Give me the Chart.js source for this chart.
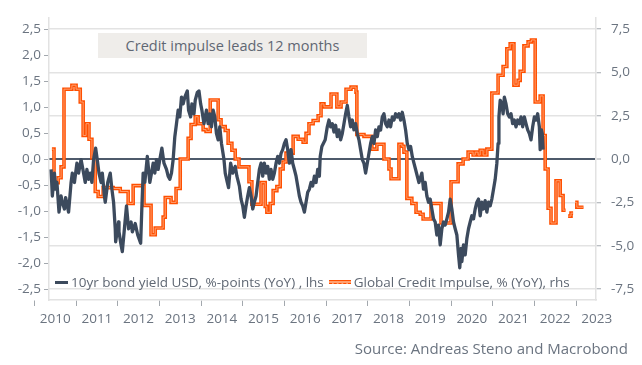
<!DOCTYPE html>
<html lang="en">
<head>
  <meta charset="utf-8">
  <title>Credit impulse vs 10yr yield</title>
  <script src="https://cdn.jsdelivr.net/npm/chart.js@4.4.1/dist/chart.umd.min.js"></script>
  <style>
    body{ margin:0; background:#fff; }
    #wrap{ position:relative; width:642px; height:365px; font-family:"Open Sans", sans-serif; color:#5f6773; }
    #chart{ position:absolute; left:0; top:0; }
    .note{
      position:absolute; left:98px; top:33px; width:269px; height:25px;
      background:#efedea; text-align:center; line-height:25px; font-size:14.5px;
    }
    .legend{ position:absolute; left:55px; top:273px; font-size:13.5px; white-space:nowrap; line-height:17px; }
    .legend span{ display:inline-block; vertical-align:middle; }
    .swatch-bond{ width:13px; height:3px; background:#3c4a5d; margin-right:3px; }
    .swatch-ci{ width:22px; height:2px; border-top:1.5px solid #ff4f00; border-bottom:1.5px dashed #ff4f00; background:#ffa070; margin:0 3px 0 5px; }
    .source{ position:absolute; right:14px; top:338px; font-size:15px; color:#6b7480; }
  </style>
</head>
<body>
<div id="wrap">
  <canvas id="chart" width="642" height="365"></canvas>
  <div class="note">Credit impulse leads 12 months</div>
  <div class="legend">
    <span class="swatch-bond"></span><span>10yr bond yield USD, %-points (YoY) , lhs</span><span class="swatch-ci"></span><span>Global Credit Impulse, % (YoY), rhs</span>
  </div>
  <div class="source">Source: Andreas Steno and Macrobond</div>
</div>

<script>
  // 10yr bond yield USD, %-points YoY (lhs) - dates as decimal years
  var bondDates = [
    2010.40, 2010.43, 2010.48, 2010.51, 2010.54, 2010.59, 2010.64, 2010.67, 2010.72, 2010.75,
    2010.82, 2010.88, 2010.91, 2010.96, 2011.02, 2011.06, 2011.12, 2011.18, 2011.22, 2011.26,
    2011.30, 2011.34, 2011.38, 2011.42, 2011.47, 2011.52, 2011.55, 2011.60, 2011.63, 2011.68,
    2011.70, 2011.76, 2011.82, 2011.86, 2011.90, 2011.94, 2011.95, 2012.02, 2012.03, 2012.08,
    2012.11, 2012.16, 2012.21, 2012.26, 2012.32, 2012.35, 2012.42, 2012.48,
    2012.55, 2012.58, 2012.61, 2012.65, 2012.71, 2012.77, 2012.81, 2012.85, 2012.89, 2012.93,
    2012.97, 2013.01, 2013.06, 2013.11, 2013.17, 2013.21, 2013.25, 2013.29, 2013.33, 2013.37,
    2013.41, 2013.45, 2013.49, 2013.53, 2013.57, 2013.61, 2013.67, 2013.70, 2013.75, 2013.78,
    2013.83, 2013.86, 2013.91, 2013.95, 2013.99, 2014.02, 2014.07, 2014.13, 2014.17, 2014.21,
    2014.25, 2014.29, 2014.33, 2014.37, 2014.41, 2014.45, 2014.49, 2014.55, 2014.58, 2014.63,
    2014.66, 2014.71,
    2014.76, 2014.82, 2014.86, 2014.92, 2014.96, 2015.00, 2015.04, 2015.08, 2015.12, 2015.16,
    2015.20, 2015.24, 2015.28, 2015.32, 2015.36, 2015.40, 2015.44, 2015.48, 2015.52, 2015.56,
    2015.60, 2015.64, 2015.68, 2015.72, 2015.76, 2015.80, 2015.84, 2015.88, 2015.92, 2015.96,
    2016.00, 2016.04, 2016.08, 2016.12, 2016.16, 2016.20, 2016.24, 2016.28, 2016.32, 2016.36,
    2016.40, 2016.44, 2016.48, 2016.52, 2016.56, 2016.60, 2016.64, 2016.68, 2016.72, 2016.76,
    2016.80, 2016.84, 2016.86, 2016.90, 2016.98,
    2017.03, 2017.07, 2017.11, 2017.15, 2017.19, 2017.23, 2017.27, 2017.31, 2017.35, 2017.39,
    2017.43, 2017.47, 2017.51, 2017.55, 2017.59, 2017.63, 2017.67, 2017.71, 2017.75, 2017.79,
    2017.83, 2017.87, 2017.91, 2017.95, 2017.99, 2018.03, 2018.07, 2018.11, 2018.15, 2018.19,
    2018.23, 2018.27, 2018.31, 2018.35, 2018.39, 2018.43, 2018.47, 2018.51, 2018.55, 2018.59,
    2018.63, 2018.67, 2018.71, 2018.75, 2018.79, 2018.83, 2018.87, 2018.91, 2018.95, 2018.99,
    2019.03, 2019.07, 2019.11, 2019.15, 2019.19, 2019.23,
    2019.30, 2019.34, 2019.38, 2019.42, 2019.46, 2019.50, 2019.54, 2019.58, 2019.62, 2019.66,
    2019.70, 2019.74, 2019.78, 2019.82, 2019.86, 2019.90, 2019.94, 2019.98, 2020.02, 2020.06,
    2020.10, 2020.14, 2020.18, 2020.21, 2020.24, 2020.26, 2020.30, 2020.34, 2020.38, 2020.42,
    2020.46, 2020.50, 2020.54, 2020.58, 2020.62, 2020.66, 2020.70, 2020.74, 2020.78, 2020.82,
    2020.86, 2020.90, 2020.94, 2020.98, 2021.02, 2021.06, 2021.10, 2021.13, 2021.15, 2021.18,
    2021.22, 2021.25, 2021.28, 2021.32, 2021.36,
    2021.40, 2021.44, 2021.48, 2021.52, 2021.56, 2021.60, 2021.64, 2021.68, 2021.72, 2021.76,
    2021.80, 2021.84, 2021.88, 2021.92, 2021.96, 2022.00, 2022.04, 2022.08, 2022.12, 2022.14,
    2022.17, 2022.19, 2022.21
  ];
  var bondYield = [
    -0.20, -0.71, -0.27, -0.58, -0.45, -1.02, -0.71, -0.83, -0.96, -0.74,
    -1.02, -0.45, -0.27, -0.45, -0.08, -0.27, -0.01, -0.27, -0.45, -0.20,
    -0.39, -0.27, -0.45, -0.01, 0.21, -0.08, -0.27, -0.45, -0.27, -0.71,
    -0.83, -0.45, -0.27, -0.58, -0.83, -1.34, -1.59, -1.21, -1.40, -1.65,
    -1.78, -1.34, -0.90, -1.34, -1.21, -1.40, -1.24, -1.46,
    -1.62, -0.91, -0.27, -0.45, 0.05, -0.45, -0.27, -0.08, -0.27, -0.01,
    -0.20, -0.01, 0.21, -0.08, -0.20, -0.33, -0.39, -0.27, -0.01, 0.43,
    0.68, 0.94, 0.81, 1.19, 1.06, 1.19, 1.31, 0.94, 0.81, 1.06,
    0.87, 1.13, 1.28, 1.31, 1.06, 0.94, 0.68, 0.94, 0.68, 0.87,
    0.62, 0.94, 0.81, 0.49, 0.37, 0.62, 0.30, -0.01, -0.27, -0.45,
    -0.55, -0.08,
    -0.27, -0.14, -0.33, -0.52, -0.77, -0.90, -1.12, -0.90, -0.71, -0.55,
    -0.71, -0.96, -0.83, -0.71, -0.45, -0.20, -0.08, -0.33, -0.08, -0.27,
    -0.14, -0.39, -0.20, -0.39, -0.27, -0.08, 0.05, -0.08, 0.11, 0.18,
    0.30, 0.37, 0.18, -0.08, 0.18, -0.08, -0.20, -0.33, -0.52, -0.71,
    -0.83, -0.90, -1.02, -0.83, -0.64, -0.58, -0.45, -0.52, -0.33, -0.45,
    -0.20, -0.33, 0.05, 0.24, 0.37,
    0.62, 0.75, 0.62, 0.68, 0.52, 0.65, 0.43, 0.56, 0.37, 0.49,
    0.68, 0.87, 1.03, 0.81, 0.62, 0.75, 0.56, 0.68, 0.49, 0.37,
    0.18, -0.01, -0.08, -0.27, -0.08, 0.11, 0.30, 0.43, 0.30, 0.56,
    0.43, 0.62, 0.56, 0.81, 0.87, 0.68, 0.62, 0.75, 0.62, 0.81,
    0.75, 0.87, 0.81, 0.87, 0.75, 0.90, 0.75, 0.56, 0.30, 0.18,
    0.24, 0.05, -0.08, -0.20, -0.33, -0.45,
    -0.27, -0.58, -0.45, -0.71, -0.83, -0.77, -0.96, -1.15, -1.21, -1.46,
    -1.27, -1.65, -1.34, -1.21, -1.27, -1.15, -1.02, -0.77, -0.96, -1.21,
    -1.34, -1.46, -1.84, -2.09, -1.72, -1.97, -1.65, -1.84, -1.53, -1.34,
    -1.21, -1.09, -1.15, -0.96, -0.83, -0.77, -1.09, -0.83, -0.96, -0.80,
    -1.02, -0.83, -0.90, -0.77, -0.58, -0.39, -0.08, 0.30, 0.81, 1.13,
    1.06, 0.87, 1.19, 1.06, 0.87,
    0.81, 0.87, 0.68, 0.75, 0.62, 0.75, 0.68, 0.81, 0.62, 0.81,
    0.68, 0.56, 0.49, 0.37, 0.62, 0.81, 0.75, 0.87, 0.62, 0.18,
    0.56, 0.49, 0.18
  ];

  // Global credit impulse, % YoY (rhs), shifted 12m - each value holds until the next date
  var impulseDates = [
    2010.42, 2010.47, 2010.57, 2010.64, 2010.71, 2010.90, 2011.00, 2011.10, 2011.17, 2011.24,
    2011.31, 2011.38, 2011.46, 2011.53, 2011.65, 2011.89, 2012.06, 2012.25, 2012.37, 2012.63,
    2012.80, 2012.90, 2013.09, 2013.14, 2013.28, 2013.40, 2013.50, 2013.69, 2013.76, 2013.86,
    2013.93, 2014.05, 2014.12, 2014.22, 2014.41, 2014.48, 2014.58, 2014.65, 2014.74, 2014.82,
    2014.91, 2015.15, 2015.22, 2015.44, 2015.54, 2015.58, 2015.66, 2015.73, 2015.82, 2015.90,
    2015.97, 2016.04, 2016.21, 2016.33, 2016.45, 2016.52, 2016.59, 2016.69, 2016.81, 2016.88,
    2016.95, 2017.12, 2017.26, 2017.36, 2017.48, 2017.60, 2017.72, 2017.74, 2017.91, 2018.10,
    2018.22, 2018.39, 2018.51, 2018.56, 2018.75, 2018.82, 2018.87, 2018.94, 2019.06, 2019.16,
    2019.26, 2019.33, 2019.52, 2019.76, 2020.00, 2020.17, 2020.29, 2020.41, 2020.53, 2020.58,
    2020.65, 2020.70, 2020.77, 2020.86, 2020.98, 2021.13, 2021.25, 2021.34, 2021.42, 2021.51,
    2021.61, 2021.66, 2021.75, 2021.85, 2021.93, 2022.02, 2022.14, 2022.21, 2022.26, 2022.33,
    2022.40, 2022.52, 2022.62, 2022.69, 2022.75, 2022.76, 2022.81, 2022.88, 2022.93, 2022.95,
    2022.98, 2023.02, 2023.18
  ];
  var impulseValues = [
    0.57, -1.36, -1.08, -0.45, 4.03, 4.26, 4.03, 3.29, 1.36, 2.04,
    1.14, 0.06, -1.87, -2.16, -1.65, -1.70, -1.87, -2.56, -1.53, -2.67,
    -4.37, -3.98, -3.35, -2.22, -2.50, -1.70, 0.00, 1.19, 1.99, 2.44,
    2.04, 1.70, 1.59, 3.41, 2.27, 1.87, 1.65, 0.91, 0.51, 0.00,
    -0.45, -1.31, -2.61, -1.36, -2.73, -3.07, -2.56, -1.82, -1.59, -0.57,
    -0.17, 0.34, 1.31, 1.14, 0.97, 1.48, 2.04, 2.22, 2.50, 3.18,
    3.01, 3.75, 3.01, 3.29, 4.03, 4.15, 3.86, 1.42, 1.31, 0.57,
    0.85, 0.00, -0.57, -1.14, 0.85, 0.74, 0.40, -2.27, -2.56, -3.07,
    -3.18, -3.46, -2.56, -3.69, -1.31, -0.28, 0.00, 0.40, 0.23, 0.40,
    0.23, 0.51, 0.23, 0.57, 3.81, 4.83, 5.34, 6.36, 6.65, 4.26,
    4.54, 5.06, 6.53, 6.76, 6.87, 3.29, 3.64, 1.36, -0.57, -2.84,
    -3.69, -1.25, -2.10, -2.95, -2.95, null, -3.29, -3.12, -3.12, null,
    -2.50, -2.78, -2.78
  ];

  var yearTicks = [2010, 2011, 2012, 2013, 2014, 2015, 2016, 2017, 2018, 2019, 2020, 2021, 2022, 2023];
  var lhsTicks = [-2.5, -2.0, -1.5, -1.0, -0.5, 0.0, 0.5, 1.0, 1.5, 2.0, 2.5];
  var rhsTicks = [-7.5, -5.0, -2.5, 0.0, 2.5, 5.0, 7.5];

  var bondLabel = "10yr bond yield USD, %-points (YoY) , lhs";
  var impulseLabel = "Global Credit Impulse, % (YoY), rhs";

  function toPoints(xs, ys){
    var out = [];
    for(var i = 0; i < xs.length; i++){
      out.push({x: xs[i], y: ys[i]});
    }
    return out;
  }
  function commaFmt(v){
    return v.toFixed(1).replace('.', ',');
  }
  function setTicks(list){
    return function(scale){
      scale.ticks = list.map(function(v){ return {value: v}; });
    };
  }

  var tickFont = {family: "'Open Sans', sans-serif", size: 13.5};
  var tickColor = '#6b7480';
  var markColor = '#a3a8ae';
  var frameColor = '#e2e2e2';

  var bondPts = toPoints(bondDates, bondYield);
  var impulsePts = toPoints(impulseDates, impulseValues);

  var chart = new Chart(document.getElementById('chart'), {
    type: 'line',
    data: {
      datasets: [
        {
          label: bondLabel,
          data: bondPts,
          yAxisID: 'yL',
          borderColor: '#3c4a5d',
          borderWidth: 3.3,
          borderJoinStyle: 'round',
          pointRadius: 0,
          tension: 0
        },
        {
          // light centre stripe of the hollow orange line
          label: impulseLabel + ' inner',
          data: impulsePts,
          yAxisID: 'yR',
          stepped: 'before',
          spanGaps: false,
          borderColor: '#ffa070',
          borderWidth: 1,
          pointRadius: 0
        },
        {
          label: impulseLabel,
          data: impulsePts,
          yAxisID: 'yR',
          stepped: 'before',
          spanGaps: false,
          borderColor: '#ff4f00',
          borderWidth: 3.6,
          pointRadius: 0
        }
      ]
    },
    options: {
      responsive: false,
      animation: false,
      devicePixelRatio: 1,
      layout: { padding: { top: 14 } },
      plugins: {
        legend: { display: false },
        tooltip: { enabled: false }
      },
      scales: {
        x: {
          type: 'linear',
          min: 2010.35,
          max: 2023.48,
          afterFit: function(s){ s.height = 65; },
          afterBuildTicks: setTicks(yearTicks),
          grid: { drawOnChartArea: false, drawTicks: true, tickLength: 6, tickColor: markColor, tickWidth: 1 },
          border: { display: true, color: frameColor, width: 1.5 },
          ticks: {
            autoSkip: false, maxRotation: 0, minRotation: 0,
            labelOffset: 20.8, padding: 5,
            color: tickColor, font: tickFont,
            callback: function(v){ return String(v); }
          }
        },
        yL: {
          position: 'left',
          min: -2.71,
          max: 2.71,
          afterFit: function(s){ s.width = 49; },
          afterBuildTicks: setTicks(lhsTicks),
          grid: { drawOnChartArea: false, tickLength: 5, tickColor: markColor },
          border: { display: true, color: frameColor, width: 1.5 },
          ticks: { padding: 3, color: tickColor, font: tickFont, callback: commaFmt }
        },
        yR: {
          position: 'right',
          min: -8.13,
          max: 8.13,
          afterFit: function(s){ s.width = 46; },
          afterBuildTicks: setTicks(rhsTicks),
          grid: {
            drawOnChartArea: true,
            color: function(c){ return (c.tick && c.tick.value === 0) ? '#4e5a6b' : '#e3e3e3'; },
            lineWidth: function(c){ return (c.tick && c.tick.value === 0) ? 2 : 1.5; },
            tickLength: 5,
            tickColor: markColor,
            tickWidth: 1
          },
          border: { display: true, color: frameColor, width: 1.5 },
          ticks: { padding: 10, color: tickColor, font: tickFont, callback: commaFmt }
        }
      }
    }
  });
</script>
</body>
</html>
